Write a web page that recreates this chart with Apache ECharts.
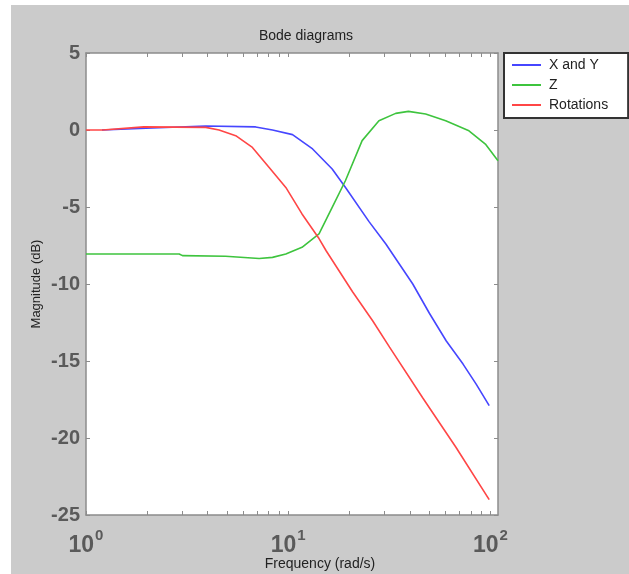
<!DOCTYPE html>
<html>
<head>
<meta charset="utf-8">
<script src="https://cdn.jsdelivr.net/npm/echarts@6/dist/echarts.min.js"></script>
<style>
html,body{margin:0;padding:0;background:#fff;}
#bg{position:absolute;left:11px;top:5px;width:618px;height:569px;background:#cbcbcb;}
#chart{position:absolute;left:0;top:0;width:629px;height:574px;}
</style>
</head>
<body>
<div id="bg"></div>
<div id="chart"></div>
<script>
// ---- data ----
const seriesNames = ['X and Y', 'Z', 'Rotations'];

const freqXY = [1.2, 2.13, 3.91, 6.9, 8.36, 10.5, 13.2, 16.5, 19.2, 25.1, 30.4, 41.3, 49.9, 60.5, 73.2, 85.0, 98.6];
const magXY  = [0, 0.13, 0.26, 0.2, 0, -0.3, -1.23, -2.53, -3.73, -5.95, -7.4, -10.0, -11.9, -13.7, -15.2, -16.5, -17.9];

const freqZ = [1, 2.89, 3.0, 4.9, 7.18, 8.36, 9.73, 11.7, 14.2, 16.5, 19.2, 23.2, 28.1, 34.0, 39.3, 47.8, 60.1, 78.3, 94.4, 109];
const magZ  = [-8.05, -8.05, -8.16, -8.2, -8.34, -8.27, -8.05, -7.62, -6.75, -5.03, -3.28, -0.69, 0.6, 1.08, 1.21, 1.04, 0.6, -0.05, -0.91, -1.99];

const freqRot = [1, 1.21, 1.93, 3.91, 4.55, 5.5, 6.65, 8.05, 9.73, 11.7, 14.2, 15.4, 20.8, 26.2, 31.7, 46.3, 67.5, 98.6];
const magRot  = [0, 0, 0.2, 0.17, 0, -0.37, -1.13, -2.43, -3.73, -5.45, -7.05, -7.84, -10.5, -12.4, -14.1, -17.4, -20.6, -24.0];

const xTickValues  = [1, 2, 3, 4, 5, 6, 7, 8, 9, 10, 20, 30, 40, 50, 60, 70, 80, 90, 100];
const xLabelValues = [1, 10, 100];
const yTickLabels  = [5, 0, -5, -10, -15, -20, -25];

// ---- chart ----
const colors = ['#4646ff', '#3ec43e', '#ff4646'];
const xMin = 1, xMax = 109;
const yMin = Math.min(...yTickLabels), yMax = Math.max(...yTickLabels);
const axisGrey = '#8c8c8c';
const fontFam = '"Liberation Sans", Arial, sans-serif';

function pairs(xs, ys) { return xs.map((x, i) => [x, ys[i]]); }

const chart = echarts.init(document.getElementById('chart'), null, {renderer: 'canvas'});
chart.setOption({
  animation: false,
  backgroundColor: 'transparent',
  textStyle: {fontFamily: fontFam},
  title: {
    text: 'Bode diagrams',
    left: 301, top: 24, textAlign: 'center',
    textStyle: {fontSize: 14, fontWeight: 'normal', color: '#222', fontFamily: fontFam}
  },
  legend: {
    data: seriesNames,
    orient: 'vertical',
    left: 504, top: 53,
    icon: 'rect', itemWidth: 29, itemHeight: 2, itemGap: 6,
    padding: [5, 20, 6, 8],
    backgroundColor: '#fff',
    borderColor: '#333', borderWidth: 2, borderRadius: 0,
    textStyle: {fontSize: 14, color: '#222', lineHeight: 14, fontFamily: fontFam, padding: [0, 0, 0, 3]}
  },
  grid: {left: 86, top: 53, right: 131, bottom: 59, containLabel: false, outerBoundsMode: 'none',
         show: true, backgroundColor: '#fff', borderWidth: 0},
  xAxis: [{
    type: 'log', logBase: 10, min: xMin, max: xMax,
    name: 'Frequency (rad/s)', nameLocation: 'middle', nameGap: 42, nameMoveOverlap: false,
    nameTextStyle: {fontSize: 14, color: '#222', padding: [0, 0, 0, 56], fontFamily: fontFam},
    axisLine: {show: true, onZero: false, lineStyle: {color: axisGrey, width: 1.5}},
    axisTick: {show: true, inside: true, length: 4, customValues: xTickValues, lineStyle: {color: axisGrey}},
    minorTick: {show: false},
    splitLine: {show: false},
    axisLabel: {
      customValues: xLabelValues, margin: 13,
      formatter: v => '{b|10}{s|' + Math.round(Math.log10(v)) + '}',
      rich: {
        b: {fontSize: 23, fontWeight: 'bold', color: '#5a5a5a', fontFamily: fontFam},
        s: {fontSize: 15, fontWeight: 'bold', color: '#5a5a5a', fontFamily: fontFam, padding: [0, 0, 20, 1]}
      }
    }
  }, {
    type: 'log', logBase: 10, min: xMin, max: xMax, position: 'top',
    axisLine: {show: true, onZero: false, lineStyle: {color: axisGrey, width: 1.5}},
    axisTick: {show: true, inside: true, length: 4, customValues: xTickValues, lineStyle: {color: axisGrey}},
    axisLabel: {show: false}, splitLine: {show: false}
  }],
  yAxis: [{
    type: 'value', min: yMin, max: yMax, interval: 5,
    name: 'Magnitude (dB)', nameLocation: 'middle', nameGap: 43, nameMoveOverlap: false,
    nameTextStyle: {fontSize: 13, color: '#222', fontFamily: fontFam},
    axisLine: {show: true, onZero: false, lineStyle: {color: axisGrey, width: 1.5}},
    axisTick: {show: true, inside: true, length: 4, lineStyle: {color: axisGrey}},
    splitLine: {show: false},
    axisLabel: {fontSize: 20, fontWeight: 'bold', color: '#5a5a5a', margin: 6, fontFamily: fontFam}
  }, {
    type: 'value', min: yMin, max: yMax, interval: 5, position: 'right',
    axisLine: {show: true, onZero: false, lineStyle: {color: axisGrey, width: 1.5}},
    axisTick: {show: true, inside: true, length: 4, lineStyle: {color: axisGrey}},
    axisLabel: {show: false}, splitLine: {show: false}
  }],
  series: [
    {name: seriesNames[0], type: 'line', data: pairs(freqXY, magXY), color: colors[0]},
    {name: seriesNames[1], type: 'line', data: pairs(freqZ, magZ), color: colors[1]},
    {name: seriesNames[2], type: 'line', data: pairs(freqRot, magRot), color: colors[2]}
  ].map(s => Object.assign(s, {
    xAxisIndex: 0, yAxisIndex: 0, showSymbol: false, symbol: 'none',
    smooth: false, clip: true,
    lineStyle: {width: 1.6, color: s.color}
  }))
});
</script>
</body>
</html>
